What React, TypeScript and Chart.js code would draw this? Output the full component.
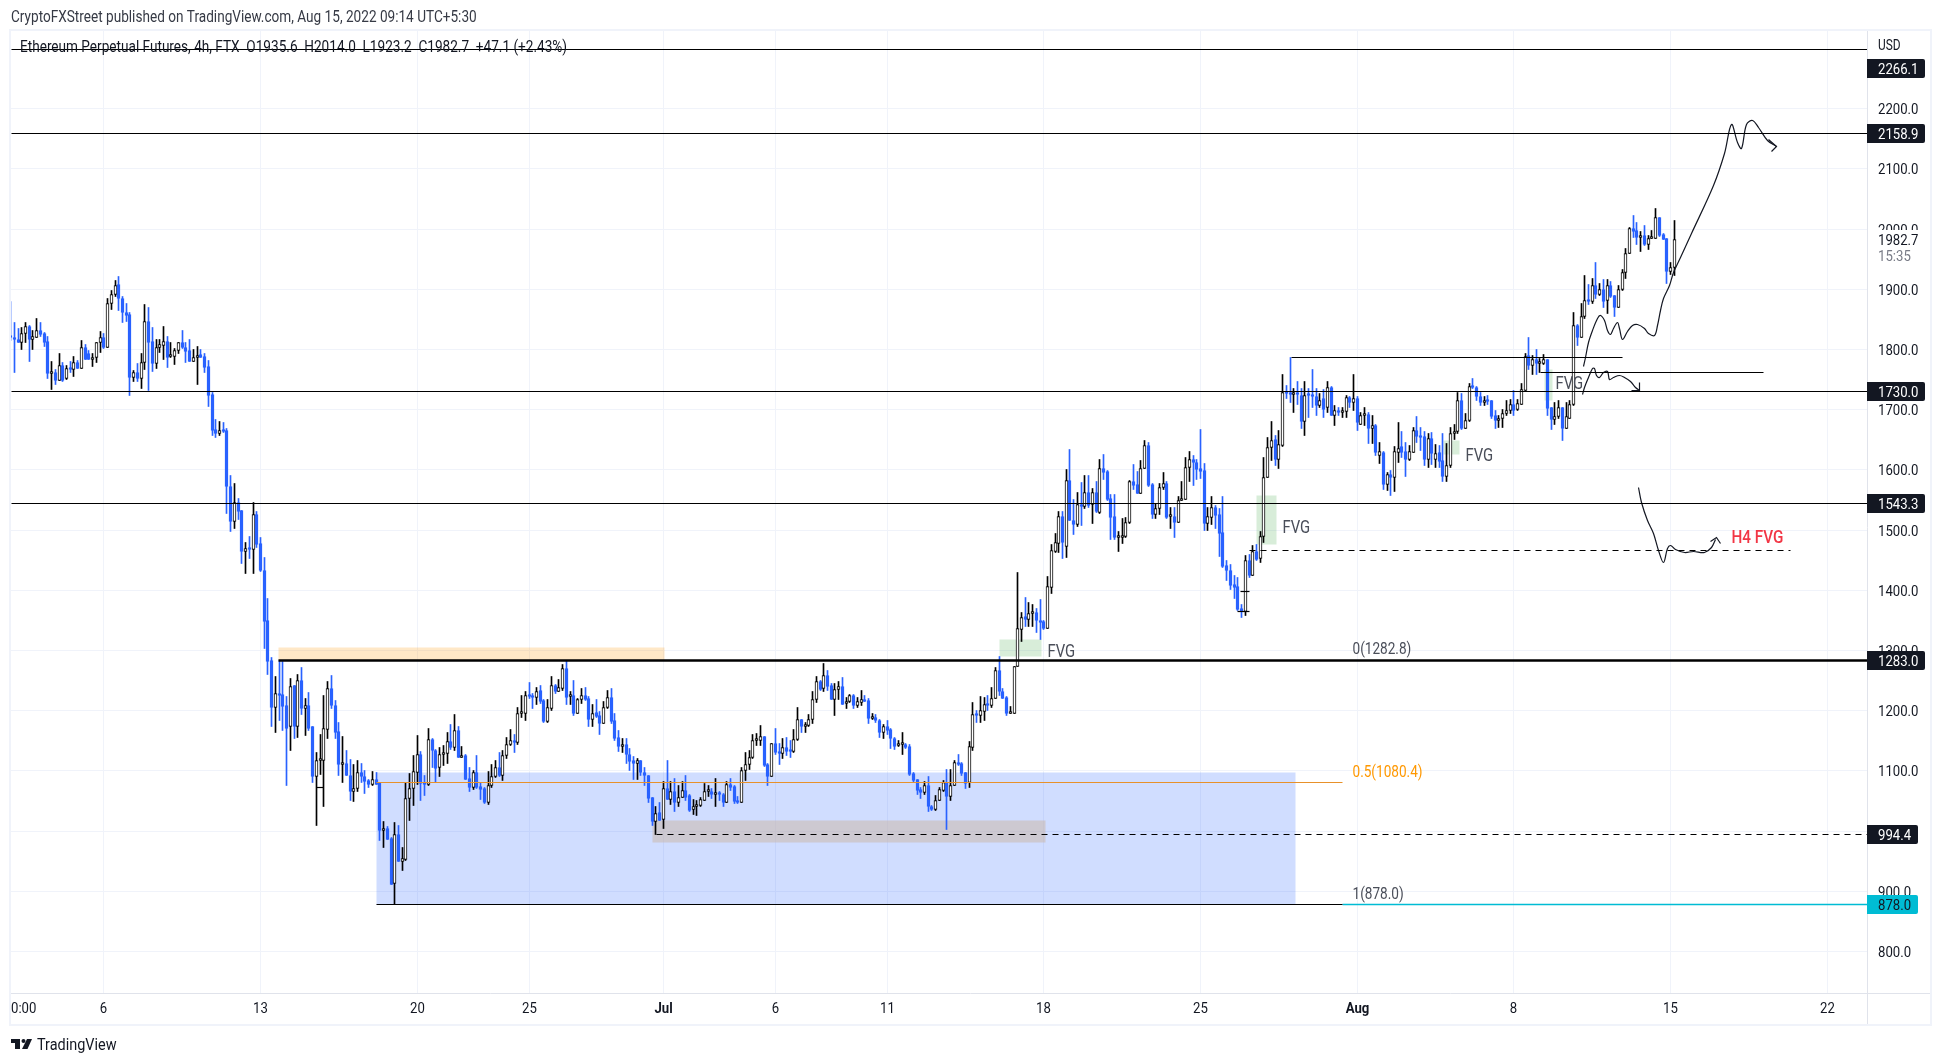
import React, { useEffect, useRef } from 'react';
import { Chart, registerables } from 'chart.js';

Chart.register(...registerables);

// 4h candles, ten bars a row, index 0 is the first bar on the left
const opens = [
  1822,1819,1816,1812,1826,1838,1816,1820,1832,1826,
  1813,1760,1762,1749,1773,1751,1769,1766,1778,1769,
  1803,1793,1784,1786,1811,1819,1804,1876,1892,1908,
  1884,1862,1858,1754,1761,1752,1779,1846,1813,1777,
  1804,1807,1814,1788,1789,1798,1811,1804,1798,1780,
  1787,1791,1788,1771,1725,1667,1661,1667,1665,1573,
  1515,1545,1532,1465,1469,1467,1526,1477,1433,1350,
  1283,1206,1228,1227,1209,1173,1241,1173,1250,1204,
  1209,1173,1091,1118,1118,1168,1236,1209,1165,1110,
  1112,1093,1066,1070,1097,1091,1084,1078,1086,1080,
  1001,1004,987,913,994,950,953,1054,1070,1098,
  1127,1080,1078,1152,1133,1105,1127,1129,1149,1139,
  1167,1123,1126,1087,1073,1097,1074,1071,1048,1075,
  1090,1106,1093,1125,1143,1150,1147,1195,1196,1227,
  1225,1222,1233,1217,1182,1204,1241,1232,1237,1270,
  1224,1225,1196,1219,1226,1220,1186,1197,1192,1179,
  1206,1222,1184,1155,1141,1144,1128,1117,1113,1117,
  1098,1092,1056,1016,1031,1019,1071,1053,1066,1048,
  1055,1067,1059,1035,1040,1042,1051,1065,1066,1061,
  1062,1061,1048,1077,1074,1050,1048,1100,1110,1122,
  1150,1151,1157,1111,1091,1145,1132,1129,1139,1134,
  1132,1152,1185,1174,1175,1185,1219,1249,1236,1258,
  1242,1219,1235,1240,1212,1216,1225,1209,1214,1219,
  1217,1187,1188,1184,1163,1174,1169,1154,1142,1143,
  1144,1141,1096,1086,1069,1064,1076,1041,1036,1051,
  1068,1081,1057,1075,1114,1112,1097,1080,1139,1193,
  1192,1199,1211,1209,1221,1267,1232,1222,1196,1196,
  1274,1335,1356,1352,1361,1363,1350,1348,1337,1405,
  1465,1478,1522,1472,1582,1516,1510,1543,1539,1562,
  1543,1562,1529,1603,1597,1552,1523,1488,1488,1489,
  1512,1580,1575,1561,1603,1640,1575,1526,1535,1570,
  1578,1522,1523,1513,1549,1551,1604,1617,1613,1602,
  1599,1511,1521,1537,1525,1496,1441,1433,1410,1406,
  1369,1364,1449,1424,1464,1452,1490,1588,1637,1650,
  1618,1640,1728,1726,1725,1728,1723,1681,1726,1725,
  1721,1707,1718,1704,1737,1691,1698,1696,1697,1720,
  1712,1718,1676,1691,1692,1668,1674,1623,1629,1576,
  1593,1588,1629,1638,1631,1618,1629,1665,1656,1655,
  1617,1652,1617,1629,1615,1589,1607,1660,1663,1715,
  1669,1682,1738,1737,1722,1712,1716,1715,1690,1682,
  1686,1693,1699,1709,1700,1709,1732,1790,1774,1783,
  1777,1777,1783,1703,1684,1688,1703,1669,1686,1708,
  1839,1819,1854,1881,1879,1906,1891,1900,1881,1906,
  1889,1869,1899,1927,1960,2001,1998,1986,1989,1974,
  1985,1985,2019,1991,1984,1930,1935.6,
];
const highs = [
  1880,1844,1834,1837,1844,1840,1832,1852,1844,1828,
  1821,1780,1767,1794,1778,1773,1780,1788,1781,1815,
  1809,1798,1794,1811,1830,1826,1884,1898,1914,1921,
  1888,1877,1861,1765,1776,1793,1875,1870,1837,1817,
  1816,1838,1821,1812,1801,1811,1832,1812,1817,1800,
  1805,1800,1794,1781,1729,1683,1680,1679,1669,1590,
  1578,1552,1533,1479,1489,1545,1530,1488,1454,1386,
  1289,1257,1283,1282,1224,1253,1242,1260,1271,1220,
  1230,1174,1131,1160,1226,1248,1258,1217,1180,1157,
  1134,1119,1111,1117,1112,1101,1085,1099,1097,1081,
  1016,1008,990,1014,1009,972,1080,1096,1126,1159,
  1132,1092,1170,1154,1135,1139,1142,1164,1177,1194,
  1174,1140,1127,1106,1101,1126,1081,1073,1099,1110,
  1117,1131,1133,1155,1169,1160,1206,1226,1231,1246,
  1228,1238,1242,1219,1218,1257,1243,1251,1277,1284,
  1232,1250,1220,1237,1239,1224,1210,1219,1199,1215,
  1234,1237,1195,1167,1153,1154,1137,1124,1120,1118,
  1105,1093,1056,1041,1048,1083,1117,1082,1087,1076,
  1082,1092,1060,1052,1051,1055,1079,1076,1070,1087,
  1066,1063,1083,1087,1075,1057,1106,1131,1134,1160,
  1162,1175,1157,1112,1145,1170,1145,1153,1155,1150,
  1168,1205,1186,1181,1194,1231,1257,1250,1278,1267,
  1245,1245,1248,1255,1222,1227,1227,1222,1233,1225,
  1221,1196,1194,1186,1177,1184,1170,1156,1150,1163,
  1145,1143,1098,1086,1072,1083,1090,1043,1059,1073,
  1084,1102,1102,1118,1127,1114,1098,1149,1214,1200,
  1224,1222,1225,1239,1271,1290,1236,1223,1207,1274,
  1430,1363,1388,1379,1377,1369,1385,1350,1423,1476,
  1494,1531,1530,1601,1634,1550,1563,1579,1591,1591,
  1569,1581,1618,1626,1599,1559,1559,1498,1520,1521,
  1582,1609,1598,1616,1649,1645,1577,1544,1577,1596,
  1580,1537,1538,1556,1580,1621,1630,1624,1617,1667,
  1611,1537,1556,1541,1535,1556,1449,1442,1424,1422,
  1377,1457,1459,1474,1476,1497,1620,1653,1680,1657,
  1665,1759,1740,1786,1735,1746,1735,1746,1735,1766,
  1735,1726,1733,1747,1739,1707,1704,1704,1723,1722,
  1759,1721,1696,1704,1696,1690,1675,1646,1630,1596,
  1599,1639,1679,1663,1645,1640,1671,1689,1671,1663,
  1660,1662,1642,1640,1660,1643,1671,1676,1729,1727,
  1693,1744,1752,1738,1729,1721,1723,1716,1699,1690,
  1701,1715,1717,1732,1717,1743,1794,1820,1790,1800,
  1785,1792,1784,1704,1712,1716,1704,1712,1715,1861,
  1841,1876,1923,1908,1917,1944,1909,1916,1916,1913,
  1890,1906,1932,1967,2003,2022,2011,1996,2006,1989,
  1998,2034,2019,1993,1985,1945,2014,
];
const lows = [
  1815,1762,1812,1800,1812,1780,1800,1819,1822,1805,
  1752,1734,1742,1748,1747,1750,1762,1755,1768,1769,
  1783,1783,1772,1778,1795,1801,1804,1867,1888,1865,
  1844,1847,1724,1747,1747,1735,1767,1732,1764,1769,
  1795,1783,1770,1787,1775,1794,1801,1779,1780,1780,
  1742,1786,1762,1705,1657,1654,1657,1662,1527,1497,
  1503,1517,1445,1427,1452,1427,1471,1431,1304,1260,
  1173,1163,1184,1167,1075,1133,1153,1156,1194,1158,
  1167,1081,1009,1094,1041,1153,1203,1154,1093,1081,
  1093,1051,1049,1066,1080,1063,1073,1075,1077,984,
  972,986,911,878,949,934,951,1018,1042,1078,
  1051,1059,1076,1106,1081,1090,1109,1113,1136,1134,
  1122,1123,1086,1066,1069,1070,1052,1045,1044,1073,
  1089,1091,1084,1120,1142,1131,1143,1189,1184,1221,
  1204,1211,1212,1181,1180,1200,1229,1232,1234,1211,
  1210,1192,1195,1212,1217,1174,1174,1189,1160,1179,
  1204,1179,1150,1132,1131,1112,1101,1085,1086,1092,
  1076,1048,1009,994,1017,1005,1052,1044,1033,1040,
  1055,1050,1033,1028,1026,1041,1050,1057,1054,1040,
  1051,1040,1048,1067,1046,1046,1048,1084,1102,1120,
  1142,1142,1107,1076,1090,1128,1111,1120,1125,1122,
  1131,1150,1164,1163,1174,1178,1214,1234,1232,1234,
  1219,1192,1218,1210,1204,1214,1204,1205,1209,1215,
  1179,1185,1180,1155,1153,1161,1137,1135,1141,1127,
  1137,1092,1081,1061,1054,1061,1033,1034,1034,1050,
  1065,1003,1050,1075,1109,1092,1071,1073,1134,1181,
  1180,1184,1201,1206,1220,1226,1220,1192,1195,1195,
  1273,1315,1339,1339,1339,1330,1318,1335,1336,1394,
  1462,1463,1452,1454,1516,1493,1506,1508,1536,1537,
  1511,1529,1528,1584,1549,1485,1485,1465,1478,1488,
  1511,1568,1560,1560,1602,1573,1519,1519,1526,1568,
  1520,1503,1488,1513,1549,1550,1581,1574,1584,1585,
  1500,1500,1510,1502,1456,1438,1416,1402,1386,1366,
  1355,1358,1422,1424,1449,1446,1480,1587,1616,1607,
  1603,1639,1718,1712,1696,1708,1668,1657,1687,1704,
  1690,1704,1687,1696,1690,1674,1690,1687,1687,1704,
  1698,1665,1675,1674,1643,1643,1624,1610,1568,1566,
  1557,1564,1613,1621,1589,1615,1628,1646,1632,1607,
  1604,1609,1604,1604,1581,1581,1604,1651,1661,1667,
  1668,1681,1735,1715,1707,1707,1709,1686,1669,1671,
  1671,1690,1693,1690,1699,1708,1731,1766,1758,1759,
  1761,1775,1690,1667,1676,1686,1649,1668,1685,1707,
  1807,1819,1852,1875,1877,1884,1890,1869,1859,1887,
  1854,1869,1898,1918,1960,1986,1975,1963,1973,1966,
  1984,1984,1988,1982,1909,1924,1923.2,
];
const closes = [
  1819,1816,1812,1826,1838,1816,1821,1832,1825,1812,
  1760,1762,1748,1773,1749,1768,1766,1778,1769,1803,
  1784,1784,1786,1811,1819,1803,1876,1892,1907,1884,
  1862,1857,1754,1761,1752,1779,1846,1812,1777,1804,
  1808,1814,1787,1789,1798,1811,1803,1797,1780,1787,
  1790,1787,1770,1724,1665,1661,1666,1664,1573,1515,
  1545,1531,1465,1469,1467,1525,1476,1432,1348,1282,
  1206,1228,1225,1207,1171,1240,1173,1250,1204,1208,
  1170,1091,1118,1119,1170,1236,1208,1164,1110,1112,
  1093,1066,1070,1097,1090,1082,1078,1085,1078,1001,
  1004,986,912,994,949,954,1054,1070,1099,1127,
  1079,1078,1152,1133,1104,1127,1130,1148,1139,1167,
  1123,1125,1086,1073,1097,1073,1069,1048,1075,1090,
  1106,1092,1125,1143,1150,1147,1195,1196,1226,1224,
  1222,1232,1215,1182,1205,1241,1232,1238,1270,1222,
  1225,1196,1219,1226,1218,1186,1196,1191,1179,1206,
  1222,1182,1154,1141,1143,1128,1116,1113,1117,1098,
  1092,1054,1016,1030,1018,1070,1053,1065,1048,1055,
  1067,1056,1034,1040,1042,1052,1065,1066,1061,1062,
  1060,1048,1077,1073,1049,1048,1100,1110,1122,1150,
  1152,1157,1109,1091,1145,1131,1129,1138,1132,1132,
  1152,1185,1174,1177,1185,1219,1248,1235,1258,1240,
  1219,1235,1240,1211,1216,1225,1209,1215,1218,1216,
  1187,1188,1183,1163,1173,1167,1153,1141,1143,1144,
  1139,1094,1084,1067,1064,1076,1040,1035,1051,1069,
  1081,1057,1075,1114,1111,1095,1079,1140,1193,1192,
  1200,1211,1209,1221,1266,1231,1221,1195,1198,1274,
  1336,1355,1352,1361,1363,1350,1347,1337,1406,1466,
  1479,1522,1479,1582,1516,1510,1543,1539,1562,1541,
  1562,1530,1603,1596,1551,1521,1488,1489,1489,1512,
  1580,1574,1561,1603,1640,1574,1526,1535,1570,1578,
  1521,1523,1513,1549,1551,1604,1617,1613,1601,1598,
  1511,1522,1537,1524,1495,1440,1432,1408,1405,1368,
  1364,1449,1424,1464,1451,1490,1588,1637,1649,1618,
  1642,1729,1726,1725,1726,1725,1681,1723,1723,1722,
  1707,1716,1701,1737,1691,1698,1696,1698,1720,1712,
  1718,1679,1691,1693,1668,1674,1629,1630,1576,1593,
  1588,1630,1636,1629,1617,1630,1665,1655,1654,1617,
  1652,1627,1627,1614,1589,1607,1660,1663,1715,1668,
  1682,1738,1736,1721,1712,1716,1714,1689,1682,1686,
  1693,1699,1709,1699,1710,1733,1789,1773,1783,1777,
  1778,1783,1702,1684,1688,1703,1669,1688,1708,1839,
  1819,1854,1881,1879,1906,1891,1900,1880,1906,1888,
  1869,1899,1927,1960,2001,1996,1986,1989,1974,1985,
  1986,2019,1989,1983,1930,1936,1982.7,
];

const yTicks = [800, 900, 1000, 1100, 1200, 1300, 1400, 1500, 1600, 1700, 1800, 1900, 2000, 2100, 2200];
const xTickBars = [25, 67, 109, 139, 175, 205, 235, 277, 319, 361, 403, 445, 487];
const xTickLabels = ['6', '13', '20', '25', 'Jul', '6', '11', '18', '25', 'Aug', '8', '15', '22'];
const boldTicks = ['Jul', 'Aug'];

const xMin = 0.25;
const xMax = 497.8;

// drawn levels: [from bar, to bar, price]
const blackLevels = [
  [xMin, xMax, 2297.5],
  [xMin, xMax, 2158.9],
  [xMin, xMax, 1730],
  [xMin, xMax, 1543.3],
  [98.1, 357, 878],
  [343.3, 432, 1786],
  [410.2, 470, 1761],
  [82, 84, 1072.5],
  [329.8, 332, 1398],
  [328.9, 332, 1365],
];
const dashedLevels = [
  [173.1, xMax, 994.4],
  [332.2, 477.2, 1465.5],
];
const thickLevel = [71.8, xMax, 1283];
const orangeLevel = [98.1, 357, 1080.4];
const tealLevel = [357, xMax, 878];

// hand drawn projection curves
const curveAX = [421.6,422.2,423.1,424,425.4,426.3,427.2,428,428.9,429.8,430.7,431.2,432.2,433.4,434.8,436.1,437.9,439.2,440.6,441.5,442.2,443.2,444.6,445.9,447.7,450.6,456.5,459.5,461.4,463,464,465.3,467,468.6,471,473.5];
const curveAY = [1772,1787,1812,1831,1852,1856,1848,1831,1824,1834,1845,1834,1816,1829,1840,1841,1835,1827,1823,1840,1865,1884,1906,1928,1953,1992,2072,2125,2174,2143,2133,2174,2180,2168,2147,2137];
const arrowAX = [471.3, 473.5, 472];
const arrowAY = [2149, 2137, 2129];
const curveBX = [421.3,422,423.1,424,424.7,425.2,426,427,428,428.7,429.8,431.2,432.7,434.3,435.6,436.7];
const curveBY = [1725,1736,1754,1768,1769,1757,1754,1761,1764,1750,1754,1757,1754,1746,1737,1731];
const arrowBX = [434.5, 436.7, 436.6];
const arrowBY = [1732, 1731, 1745];
const curveCX = [436.4,437.2,438.7,440.3,441.7,443,444.1,444.9,446.4,448.8,451.1,454.1,455.9,457];
const curveCY = [1571,1546,1516,1494,1466,1445.5,1469,1474,1467,1463,1465,1462,1471.5,1485];
const arrowCX = [455.6, 457.3, 458.5];
const arrowCY = [1481.5, 1487, 1477];

// boxes: [from bar, to bar, top price, bottom price, colour]
const zones: [number, number, number, number, string][] = [
  [98.1, 344.5, 1097, 878, 'rgba(41,98,255,0.22)'],
  [71.8, 175.2, 1305, 1284, 'rgba(255,152,0,0.22)'],
  [172.1, 277.4, 1017.6, 981.6, 'rgba(204,182,163,0.5)'],
  [265.1, 276.4, 1318, 1290, 'rgba(76,175,80,0.22)'],
  [334, 339.4, 1557.4, 1476, 'rgba(76,175,80,0.22)'],
  [384.1, 388.5, 1648.7, 1625.5, 'rgba(76,175,80,0.22)'],
  [411.2, 413.4, 1766.7, 1715, 'rgba(76,175,80,0.22)'],
];

// chart labels: [text, bar, price, colour, size, weight]
const notes: [string, number, number, string, number, string][] = [
  ['FVG', 278, 1299, '#4a4e59', 17.5, '400'],
  ['FVG', 341.1, 1504.8, '#4a4e59', 17.5, '400'],
  ['FVG', 389.9, 1623.9, '#4a4e59', 17.5, '400'],
  ['FVG', 414.2, 1743.5, '#4a4e59', 17.5, '400'],
  ['H4 FVG', 461.4, 1489.8, '#f23645', 18, '500'],
  ['0(1282.8)', 359.8, 1304, '#4a4e59', 16, '400'],
  ['0.5(1080.4)', 359.8, 1099.5, '#ff9800', 16, '400'],
  ['1(878.0)', 359.8, 896.8, '#4a4e59', 16, '400'],
];

// price tags on the axis: [text, price, background, text colour, width]
const priceTags: [string, number, string, string, number][] = [
  ['2266.1', 2266.1, '#131722', '#ffffff', 58],
  ['2158.9', 2158.9, '#131722', '#ffffff', 58],
  ['1730.0', 1730, '#131722', '#ffffff', 58],
  ['1543.3', 1543.3, '#131722', '#ffffff', 58],
  ['1283.0', 1283, '#131722', '#ffffff', 58],
  ['994.4', 994.4, '#131722', '#ffffff', 51],
  ['878.0', 878, '#00bcd4', '#131722', 51],
];

const FONT = 'Roboto, sans-serif';
const BLUE = '#2962ff';
const INK = '#131722';
// the screenshot's type is tall and narrow
const SQUEEZE = 0.85;

const barIndex = closes.map((_, i) => i);

const levelLine = (lv: number[], color: string, width: number, dash: number[] = []) => ({
  type: 'line' as const,
  data: [{ x: lv[0], y: lv[2] }, { x: lv[1], y: lv[2] }],
  borderColor: color,
  borderWidth: width,
  borderDash: dash,
  pointRadius: 0,
  order: 1,
});

const curveLine = (xs: number[], ys: number[], tension: number) => ({
  type: 'line' as const,
  data: xs.map((x, i) => ({ x, y: ys[i] })),
  borderColor: INK,
  borderWidth: 1.2,
  tension,
  pointRadius: 0,
  order: 1,
});

// whole pixels keep the wicks and levels crisp
const snapToPixels = (scale: any) => {
  const raw = Object.getPrototypeOf(scale).getPixelForValue;
  scale.getPixelForValue = (v: number) => Math.round(raw.call(scale, v)) + 0.5;
};

const zonesPlugin = {
  id: 'zones',
  beforeDatasetsDraw(chart: any) {
    const { ctx, scales: { x, y } } = chart;
    ctx.save();
    zones.forEach(([a, b, top, bottom, color]) => {
      ctx.fillStyle = color;
      const x0 = x.getPixelForValue(a);
      const y0 = y.getPixelForValue(top);
      ctx.fillRect(x0, y0, x.getPixelForValue(b) - x0, y.getPixelForValue(bottom) - y0);
    });
    ctx.restore();
  },
};

const overlayPlugin = {
  id: 'overlay',
  afterDraw(chart: any) {
    const { ctx, chartArea, scales: { x, y } } = chart;
    const { left, top, right, bottom } = chartArea;
    const text = (s: string, px: number, py: number, color: string, size = 16, weight = '400', align: CanvasTextAlign = 'left') => {
      ctx.save();
      ctx.translate(px, py + 1.5);
      ctx.scale(SQUEEZE, 1);
      ctx.font = `${weight} ${size}px ${FONT}`;
      ctx.fillStyle = color;
      ctx.textAlign = align;
      ctx.textBaseline = 'middle';
      ctx.fillText(s, 0, 0);
      ctx.restore();
    };
    ctx.save();

    // frame and axis borders
    ctx.strokeStyle = '#f0f3fa';
    ctx.lineWidth = 2;
    ctx.strokeRect(left - 1, top - 1, 1930 - left + 2, 1024 - top + 2);
    ctx.strokeStyle = '#e0e3eb';
    ctx.lineWidth = 1;
    ctx.beginPath();
    ctx.moveTo(right + 0.5, top);
    ctx.lineTo(right + 0.5, 1024);
    ctx.moveTo(left, bottom + 0.5);
    ctx.lineTo(1930, bottom + 0.5);
    ctx.stroke();

    // axis labels, squeezed like the rest of the type
    yTicks.forEach((v) => {
      text(v.toFixed(1), 1878, y.getPixelForValue(v), INK, 15.5);
    });
    xTickBars.forEach((b, i) => {
      const label = xTickLabels[i];
      text(label, x.getPixelForValue(b), 1008, INK, 15.5, boldTicks.includes(label) ? '700' : '400', 'center');
    });
    text('0:00', left, 1008, INK, 15.5);

    notes.forEach(([s, b, p, color, size, weight]) => {
      text(s, x.getPixelForValue(b), y.getPixelForValue(p), color, size, weight);
    });

    // last price block sits over the tick labels
    ctx.fillStyle = '#ffffff';
    ctx.fillRect(right + 1, 230, 62, 35);
    text('1982.7', 1878, 240, INK, 15.5);
    text('15:35', 1878, 256, '#787b86', 15.5);

    priceTags.forEach(([s, p, bg, fg, w]) => {
      const py = y.getPixelForValue(p);
      ctx.fillStyle = bg;
      ctx.beginPath();
      ctx.roundRect(right, py - 9.5, w, 19, [0, 2, 2, 0]);
      ctx.fill();
      text(s, 1878, py, fg, 15.5);
    });

    text('USD', 1878, 45, INK, 14);
    text('CryptoFXStreet published on TradingView.com, Aug 15, 2022 09:14 UTC+5:30', 11, 16, '#363a45');
    text('Ethereum Perpetual Futures, 4h, FTX  O1935.6  H2014.0  L1923.2  C1982.7  +47.1 (+2.43%)', 20, 46, INK);

    // TradingView mark and name
    ctx.fillStyle = INK;
    ctx.fillRect(11, 1039, 9, 4);
    ctx.fillRect(15, 1039, 5, 10);
    ctx.beginPath();
    ctx.arc(23.5, 1041, 2, 0, Math.PI * 2);
    ctx.fill();
    ctx.beginPath();
    ctx.moveTo(27, 1039);
    ctx.lineTo(32, 1039);
    ctx.lineTo(27.5, 1049);
    ctx.lineTo(22, 1049);
    ctx.fill();
    text('TradingView', 37, 1044, INK, 17);
    ctx.restore();
  },
};

const App: React.FC = () => {
  const canvasRef = useRef<HTMLCanvasElement>(null);

  useEffect(() => {
    const canvas = canvasRef.current;
    if (!canvas) return;

    const up = (i: number) => closes[i] >= opens[i];
    const datasets: any[] = [
      {
        data: barIndex.map((i) => ({ x: i, y: [lows[i], highs[i]] })),
        backgroundColor: barIndex.map((i) => (up(i) ? '#000000' : BLUE)),
        barThickness: 1,
        grouped: false,
        order: 3,
      },
      {
        data: barIndex.map((i) => ({ x: i, y: [opens[i], closes[i]] })),
        backgroundColor: barIndex.map((i) => (up(i) ? '#ffffff' : BLUE)),
        borderColor: barIndex.map((i) => (up(i) ? '#000000' : BLUE)),
        borderWidth: 1,
        borderSkipped: false,
        barThickness: 3,
        minBarLength: 2,
        grouped: false,
        order: 2,
      },
      ...blackLevels.map((lv) => levelLine(lv, '#000000', 1.2)),
      ...dashedLevels.map((lv) => levelLine(lv, '#000000', 1.2, [6, 5])),
      levelLine(thickLevel, '#000000', 2.4),
      levelLine(orangeLevel, '#e8912a', 1.2),
      levelLine(tealLevel, '#00bcd4', 1.4),
      curveLine(curveAX, curveAY, 0.35),
      curveLine(arrowAX, arrowAY, 0),
      curveLine(curveBX, curveBY, 0.35),
      curveLine(arrowBX, arrowBY, 0),
      curveLine(curveCX, curveCY, 0.35),
      curveLine(arrowCX, arrowCY, 0),
    ];

    const chart = new Chart(canvas, {
      type: 'bar',
      data: { datasets },
      plugins: [zonesPlugin, overlayPlugin],
      options: {
        responsive: false,
        animation: false,
        devicePixelRatio: 1,
        layout: { padding: { left: 11, top: 31, right: 0, bottom: 40 } },
        plugins: { legend: { display: false }, tooltip: { enabled: false } },
        scales: {
          x: {
            type: 'linear',
            min: xMin,
            max: xMax,
            offset: false,
            grid: { color: '#f0f3fa', offset: false, drawTicks: false },
            border: { display: false },
            ticks: { display: false },
            afterBuildTicks: (scale: any) => {
              scale.ticks = xTickBars.map((value) => ({ value }));
            },
            afterFit: (scale: any) => {
              scale.height = 31;
            },
            afterUpdate: snapToPixels,
          },
          y: {
            type: 'linear',
            position: 'right',
            min: 730.2,
            max: 2328.1,
            grid: { color: '#f0f3fa', drawTicks: false },
            border: { display: false },
            ticks: { display: false },
            afterBuildTicks: (scale: any) => {
              scale.ticks = yTicks.map((value) => ({ value }));
            },
            afterFit: (scale: any) => {
              scale.width = 74;
            },
            afterUpdate: snapToPixels,
          },
        },
      },
    });

    return () => chart.destroy();
  }, []);

  return (
    <div style={{ position: 'absolute', left: 0, top: 0, width: 1941, height: 1064, background: '#ffffff' }}>
      <canvas ref={canvasRef} width={1941} height={1064} style={{ display: 'block' }} />
    </div>
  );
};

export default App;
